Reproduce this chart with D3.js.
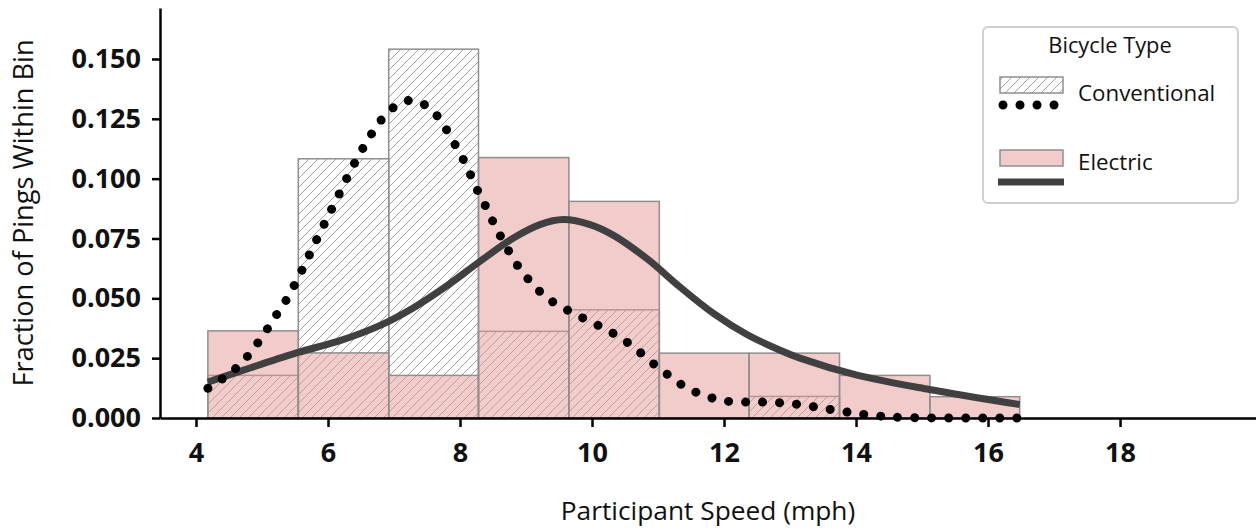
<!DOCTYPE html>
<html>
<head>
<meta charset="utf-8">
<script src="https://cdn.jsdelivr.net/npm/d3@7"></script>
<style>
  html, body { margin: 0; padding: 0; background: #fff; }
  svg { display: block; }
  text { font-family: "Open Sans", "DejaVu Sans", sans-serif; fill: #111; }
</style>
</head>
<body>
<svg id="chart" width="1256" height="529"></svg>
<script>
// ---------------- data ----------------
const binEdges = [4.18, 5.55, 6.92, 8.28, 9.65, 11.02, 12.38, 13.75, 15.12, 16.48];
const electricFrac = [0.0364, 0.0272, 0.0178, 0.1088, 0.0905, 0.0271, 0.0271, 0.0178, 0.0089];
const conventionalFrac = [0.0178, 0.1083, 0.1541, 0.0362, 0.0452, 0.0, 0.0090, 0.0, 0.0];

const convKdeX = [4.18, 4.40, 4.61, 4.79, 4.95, 5.10, 5.24, 5.37, 5.62, 5.85, 6.08, 6.43, 6.70, 6.85, 7.05, 7.29, 7.53, 7.70, 7.84, 7.97, 8.09, 8.20, 8.31, 8.43, 8.54, 8.67, 8.79, 8.94, 9.11, 9.29, 9.50, 9.74, 9.97, 10.21, 10.43, 10.64, 10.84, 11.05, 11.26, 11.47, 11.72, 11.97, 12.23, 12.48, 12.74, 13.00, 13.27, 13.53, 13.79, 14.03, 14.29, 14.56, 15.00, 15.50, 16.00, 16.48];
const convKdeY = [0.0124, 0.0164, 0.0209, 0.0261, 0.0319, 0.0380, 0.0440, 0.0494, 0.0626, 0.0758, 0.0886, 0.1079, 0.1204, 0.1259, 0.1308, 0.1328, 0.1296, 0.1246, 0.1183, 0.1120, 0.1058, 0.0991, 0.0925, 0.0863, 0.0796, 0.0733, 0.0672, 0.0611, 0.0557, 0.0508, 0.0469, 0.0436, 0.0402, 0.0372, 0.0334, 0.0296, 0.0246, 0.0202, 0.0157, 0.0121, 0.0093, 0.0073, 0.0067, 0.0067, 0.0065, 0.0061, 0.0051, 0.0039, 0.0028, 0.0018, 0.0010, 0.0004, 0.0001, 0.0000, 0.0000, 0.0000];

const elecKdeX = [4.18, 4.83, 5.56, 6.17, 6.79, 7.29, 7.80, 8.30, 8.81, 9.21, 9.565, 9.97, 10.32, 10.83, 11.33, 11.84, 12.34, 12.85, 13.15, 14.00, 15.11, 16.48];
const elecKdeY = [0.0150, 0.0210, 0.0275, 0.0322, 0.0387, 0.0460, 0.0552, 0.0654, 0.0752, 0.0808, 0.0829, 0.0808, 0.0764, 0.0666, 0.0548, 0.0437, 0.0350, 0.0283, 0.0250, 0.0180, 0.0119, 0.0056];

const xTicks = [4, 6, 8, 10, 12, 14, 16, 18];
const yTicks = [0.000, 0.025, 0.050, 0.075, 0.100, 0.125, 0.150];
const seriesNames = ["Conventional", "Electric"];
const legendTitle = "Bicycle Type";
const xLabel = "Participant Speed (mph)";
const yLabel = "Fraction of Pings Within Bin";

// ---------------- layout ----------------
const W = 1256, H = 529;
const m = { left: 160, top: 8, right: 0, bottom: 111 };
const svg = d3.select("#chart");

const x = d3.scaleLinear().domain([3.4545, 20.06]).range([m.left, W - m.right]);
const y = d3.scaleLinear().domain([0, 0.1713]).range([H - m.bottom, m.top]);

// hatch pattern
const defs = svg.append("defs");
const pat = defs.append("pattern")
  .attr("id", "hatch").attr("patternUnits", "userSpaceOnUse")
  .attr("width", 9).attr("height", 9);
pat.append("path")
  .attr("d", "M0,9 L9,0 M-3,3 L3,-3 M6,12 L12,6")
  .attr("stroke", "#a3a3a3").attr("stroke-width", 1).attr("fill", "none");

const bins = d3.range(binEdges.length - 1).map(i => ({ x0: binEdges[i], x1: binEdges[i + 1], c: conventionalFrac[i], e: electricFrac[i] }));

// conventional (hatched) bars
svg.append("g").selectAll("rect").data(bins).join("rect")
  .attr("x", d => x(d.x0)).attr("width", d => x(d.x1) - x(d.x0))
  .attr("y", d => y(d.c)).attr("height", d => y(0) - y(d.c))
  .attr("fill", "url(#hatch)")
  .attr("stroke", "#8f8f8f").attr("stroke-width", 1.5);

// electric (pink, semi-transparent) bars
svg.append("g").selectAll("rect").data(bins).join("rect")
  .attr("x", d => x(d.x0)).attr("width", d => x(d.x1) - x(d.x0))
  .attr("y", d => y(d.e)).attr("height", d => y(0) - y(d.e))
  .attr("fill", "rgb(229,152,152)").attr("fill-opacity", 0.5)
  .attr("stroke", "#8f8f8f").attr("stroke-width", 1.5);

// KDE lines
const line = d3.line().x(d => x(d[0])).y(d => y(d[1])).curve(d3.curveCatmullRom.alpha(0.5));
svg.append("path")
  .datum(elecKdeX.map((v, i) => [v, elecKdeY[i]]))
  .attr("d", line).attr("fill", "none")
  .attr("stroke", "#404040").attr("stroke-width", 7);
svg.append("path")
  .datum(convKdeX.map((v, i) => [v, convKdeY[i]]))
  .attr("d", line).attr("fill", "none")
  .attr("stroke", "#000").attr("stroke-width", 9)
  .attr("stroke-linecap", "round").attr("stroke-dasharray", "0.01 17");

// axes
const xAxis = svg.append("g").attr("transform", `translate(0,${y(0)})`)
  .call(d3.axisBottom(x).tickValues(xTicks).tickFormat(d3.format("d")).tickSize(9).tickSizeOuter(0).tickPadding(16));
const yAxis = svg.append("g").attr("transform", `translate(${m.left},0)`)
  .call(d3.axisLeft(y).tickValues(yTicks).tickFormat(d3.format(".3f")).tickSize(8).tickSizeOuter(0).tickPadding(11));
[xAxis, yAxis].forEach(a => {
  a.select(".domain").attr("stroke", "#000").attr("stroke-width", 2.5);
  a.selectAll(".tick line").attr("stroke", "#000").attr("stroke-width", 2.5);
  a.selectAll(".tick text").attr("font-family", "'Open Sans', sans-serif")
    .attr("font-size", 27).attr("font-weight", "bold").attr("fill", "#111");
});

// axis labels
svg.append("text").attr("x", (m.left + W - m.right) / 2).attr("y", 520)
  .attr("text-anchor", "middle").attr("font-size", 26.3).text(xLabel);
svg.append("text").attr("transform", `translate(33,${(m.top + y(0)) / 2}) rotate(-90)`)
  .attr("text-anchor", "middle").attr("font-size", 27.2).text(yLabel);

// legend
const lg = svg.append("g");
lg.append("rect").attr("x", 983).attr("y", 27).attr("width", 255).attr("height", 176)
  .attr("rx", 5).attr("fill", "#fff").attr("stroke", "#d0d0d0").attr("stroke-width", 2);
lg.append("text").attr("x", 1110).attr("y", 53).attr("text-anchor", "middle")
  .attr("font-size", 21.8).text(legendTitle);
lg.append("rect").attr("x", 1000).attr("y", 77).attr("width", 63).attr("height", 16)
  .attr("fill", "url(#hatch)").attr("stroke", "#8f8f8f").attr("stroke-width", 1.5);
lg.append("line").attr("x1", 1003).attr("x2", 1057).attr("y1", 105).attr("y2", 105)
  .attr("stroke", "#000").attr("stroke-width", 9).attr("stroke-linecap", "round").attr("stroke-dasharray", "0.01 17");
lg.append("text").attr("x", 1078).attr("y", 101).attr("font-size", 22.3).text(seriesNames[0]);
lg.append("rect").attr("x", 1000).attr("y", 150).attr("width", 63).attr("height", 16)
  .attr("fill", "rgb(229,152,152)").attr("fill-opacity", 0.5).attr("stroke", "#8f8f8f").attr("stroke-width", 1.5);
lg.append("line").attr("x1", 998).attr("x2", 1064).attr("y1", 182).attr("y2", 182)
  .attr("stroke", "#404040").attr("stroke-width", 7);
lg.append("text").attr("x", 1078).attr("y", 170).attr("font-size", 22.3).text(seriesNames[1]);
</script>
</body>
</html>
